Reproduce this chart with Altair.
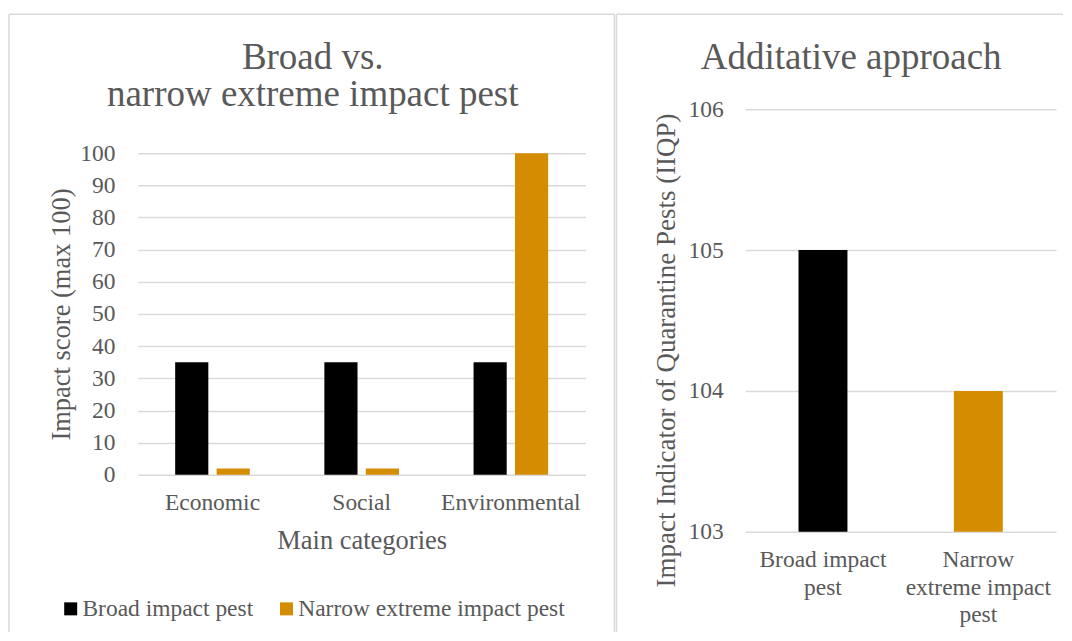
import json
import altair as alt
import pandas as pd

# ---------------- data ----------------
categories = ["Economic", "Social", "Environmental"]
series = ["Broad impact pest", "Narrow extreme impact pest"]
broad_scores = [35, 35, 35]
narrow_scores = [2, 2, 100]
left_ticks = [0, 10, 20, 30, 40, 50, 60, 70, 80, 90, 100]

pests = ["Broad impact pest", "Narrow extreme impact pest"]
pest_label_lines = [["Broad impact", "pest"], ["Narrow", "extreme impact", "pest"]]
iiqp_values = [105, 104]
right_ticks = [103, 104, 105, 106]

colors = ["#000000", "#D48C00"]

left_title = ["Broad vs.", "narrow extreme impact pest"]
right_title = "Additative approach"

# ---------------- style ----------------
FONT = "Liberation Serif"
TXT = "#595959"
GRID = "#d9d9d9"
FRAME = "#d9d9d9"

# both panels share the same origin row (page y = 108)
ORIGIN_Y = 108
LW, LH = 448, 474 - ORIGIN_Y
LEFT_TOP = 152 - ORIGIN_Y           # where the 100 gridline sits inside the left panel
RW, RH = 311, 423

one = pd.DataFrame({"k": [0]})


def hrule(x1, x2, y):
    return alt.Chart(one).mark_rule(color=FRAME, strokeWidth=1.5).encode(
        x=alt.value(x1), x2=alt.value(x2), y=alt.value(y))


def vrule(x, y1, y2):
    return alt.Chart(one).mark_rule(color=FRAME, strokeWidth=1.5).encode(
        x=alt.value(x), y=alt.value(y1), y2=alt.value(y2))


def title_text(text, x, y):
    return alt.Chart(one).mark_text(
        text=text, font=FONT, fontSize=37, color=TXT, align="center",
        baseline="alphabetic", lineHeight=37,
    ).encode(x=alt.value(x), y=alt.value(y))


# ---------------- left panel ----------------
rows = []
for i, c in enumerate(categories):
    rows.append({"category": c, "series": series[0], "score": broad_scores[i]})
    rows.append({"category": c, "series": series[1], "score": narrow_scores[i]})
df_left = pd.DataFrame(rows)

left_bars = alt.Chart(df_left).mark_bar().encode(
    x=alt.X("category:N", sort=categories,
            scale=alt.Scale(paddingInner=0.5, paddingOuter=0.25),
            axis=alt.Axis(title="Main categories", labelAngle=0, labelPadding=16,
                          titlePadding=13, domain=False, ticks=False, grid=False)),
    xOffset=alt.XOffset("series:N", sort=series,
                        scale=alt.Scale(paddingInner=0.2, paddingOuter=0)),
    y=alt.Y("score:Q", scale=alt.Scale(domain=[0, 100], nice=False, range=[LH, LEFT_TOP]),
            axis=alt.Axis(values=left_ticks, title="Impact score (max 100)",
                          grid=True, domain=False, ticks=False,
                          labelPadding=23, titlePadding=4,
                          titleY=(LH + LEFT_TOP) / 2)),
    color=alt.Color("series:N", sort=series,
                    scale=alt.Scale(domain=series, range=colors),
                    legend=alt.Legend(title=None, orient="none", legendX=-79,
                                      legendY=596 - ORIGIN_Y,
                                      direction="horizontal", symbolType="square",
                                      symbolSize=169, symbolStrokeWidth=0,
                                      labelFontSize=23.5, labelColor=TXT, labelFont=FONT,
                                      labelLimit=0, columnPadding=21, labelOffset=0,
                                      padding=0)),
)

frame_top = 13 - ORIGIN_Y
frame_bottom = 631 - ORIGIN_Y
left = alt.layer(
    left_bars,
    hrule(-129, 477, frame_top),
    vrule(-129, frame_top, frame_bottom),
    vrule(477, frame_top, frame_bottom),
    title_text(left_title, 175, 68 - ORIGIN_Y),
).properties(width=LW, height=LH)

# ---------------- right panel ----------------
df_right = pd.DataFrame({"pest": pests, "value": iiqp_values})

label_expr = "datum.value"
for name, lines in reversed(list(zip(pests, pest_label_lines))):
    label_expr = f"datum.value === {json.dumps(name)} ? {json.dumps(lines)} : ({label_expr})"

right_bars = alt.Chart(df_right).mark_bar().encode(
    x=alt.X("pest:N", sort=pests,
            scale=alt.Scale(paddingInner=0.685, paddingOuter=0.3425),
            axis=alt.Axis(title=None, labelAngle=0, labelPadding=16, labelExpr=label_expr,
                          labelLineHeight=27.5, domain=False, ticks=False, grid=False)),
    y=alt.Y("value:Q", scale=alt.Scale(domain=[103, 106], nice=False, zero=False),
            axis=alt.Axis(values=right_ticks, format="d",
                          title="Impact Indicator of Quarantine Pests (IIQP)",
                          grid=True, domain=False, ticks=False, titleFontSize=27,
                          labelPadding=22, titlePadding=8, titleY=241)),
    y2=alt.datum(103),
    color=alt.Color("pest:N", sort=pests,
                    scale=alt.Scale(domain=pests, range=colors), legend=None),
)

right = alt.layer(
    right_bars,
    hrule(-129, 1063 - 745, frame_top),
    vrule(-129, frame_top, frame_bottom),
    title_text(right_title, 106, 68 - ORIGIN_Y),
).properties(width=RW, height=RH)

chart = alt.hconcat(left, right, spacing=0).properties(
    padding={"left": 0, "top": 5, "right": 0, "bottom": 0},
    background="white",
).configure(font=FONT).configure_view(stroke=None).configure_axis(
    labelFont=FONT, titleFont=FONT, labelColor=TXT, titleColor=TXT,
    labelFontSize=23.5, titleFontSize=26.5, titleFontWeight="normal",
    gridColor=GRID, gridWidth=1.5,
).configure_legend(labelFont=FONT)

chart.save("out.html", embed_options={"renderer": "svg", "actions": False})
